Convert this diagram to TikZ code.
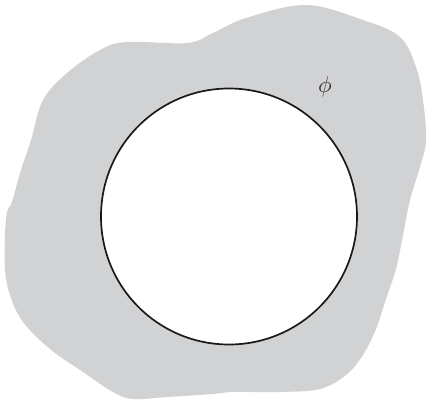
\documentclass[tikz,border=0pt]{standalone}
\definecolor{blobgray}{RGB}{209,210,212}
\begin{document}
\begin{tikzpicture}[x=1bp,y=-1bp,
  blob/.style={fill=blobgray,draw=none},
  hole/.style={fill=white,draw=black!90,line width=1.7pt},
  lbl/.style={inner sep=0pt,text=black!80}]
\useasboundingbox (0,0) rectangle (427,404);
\fill[blobgray] plot[smooth cycle,tension=0.6] coordinates {
(127,42) (187,43) (213,33) (246,18) (306,5) (363,20) (400,37) (416,67) (423,100) (426,140) (420,167) (410,200) (403,235) (396,269) (386,299) (376,329) (363,355) (346,375) (320,389) (280,392) (233,392) (213,394) (167,397) (133,399) (113,392) (83,372) (50,349) (23,322) (10,295) (5,269) (5,235) (7,212) (12,202) (20,173) (31,140) (43,100) (67,73) (100,50)};
\node[hole,circle,minimum size=256bp,inner sep=0pt] (c) at (229,216.5) {};
\node[lbl] (phi) at (325,87) {\scalebox{2.3}{$\phi$}};
\end{tikzpicture}
\end{document}
